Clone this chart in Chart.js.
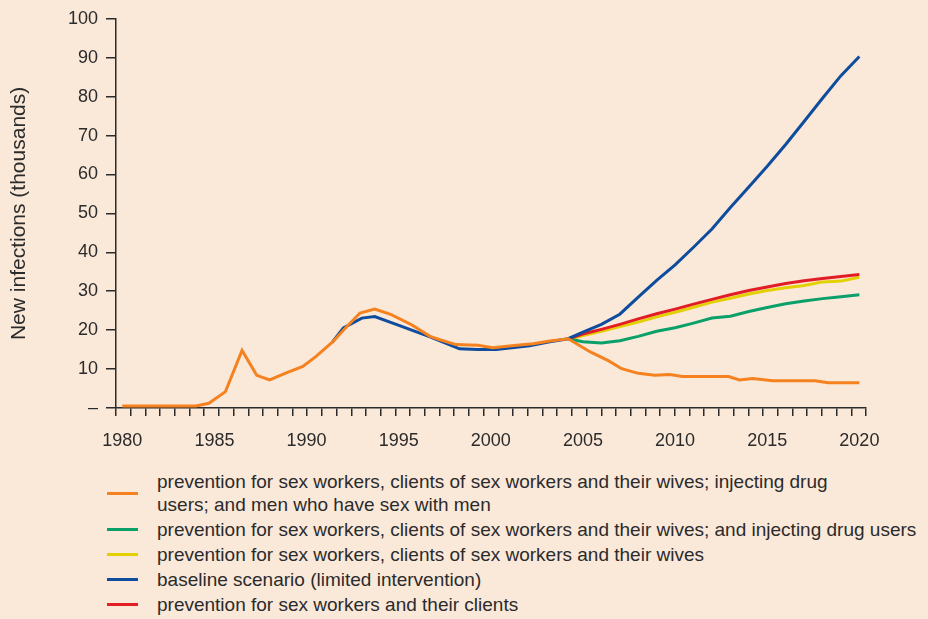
<!DOCTYPE html>
<html>
<head>
<meta charset="utf-8">
<script src="https://cdn.jsdelivr.net/npm/chart.js@4"></script>
<style>
  html, body { margin: 0; padding: 0; background: #fae8d9; }
  body { width: 928px; height: 619px; position: relative; overflow: hidden;
         font-family: "Liberation Sans", Arial, Helvetica, sans-serif; color: #2b2b2b; }
  #wrap { position: absolute; left: 0; top: 0; width: 928px; height: 455px; }
  #legend { position: absolute; left: 107px; top: 470px; font-size: 19px; line-height: 23px; }
  .item { display: flex; align-items: center; margin-bottom: 2px; }
  .swatch { width: 31px; height: 3px; margin-right: 19px; flex: none; }
  .text { white-space: nowrap; }
</style>
</head>
<body>
<div id="wrap"><canvas id="chart"></canvas></div>
<div id="legend"></div>
<script>
// --- DATA ---
const tickYears = [1980, 1985, 1990, 1995, 2000, 2005, 2010, 2015, 2020];

// prevention for sex workers, clients, wives, IDU and MSM
const orangeYears = [1980, 1981, 1982, 1983, 1984, 1984.7, 1985.6, 1986.5, 1987.3, 1988, 1988.9, 1989.8,
  1990.5, 1991.4, 1992.2, 1992.9, 1993.7, 1994.6, 1995.7, 1996.7, 1997.2, 1998.1, 1999.3, 2000.1,
  2001.4, 2002.3, 2003.2, 2004.2, 2005.4, 2006.4, 2007.1, 2008, 2008.9, 2009.7, 2010.4, 2012.9,
  2013.5, 2014.2, 2015.3, 2017.6, 2018.3, 2020];
const orangeValues = [0.5, 0.5, 0.5, 0.5, 0.5, 1.2, 4.2, 14.8, 8.4, 7.2, 9.0, 10.7,
  13.2, 16.9, 21.0, 24.4, 25.4, 24.0, 21.4, 18.4, 17.6, 16.3, 16.1, 15.5,
  16.1, 16.5, 17.2, 17.8, 14.4, 12.1, 10.1, 8.9, 8.4, 8.6, 8.1, 8.1,
  7.2, 7.6, 7.0, 7.0, 6.5, 6.5];

// baseline scenario
const blueYears = [1991.4, 1992, 1993, 1993.7, 1994.9, 1996.7, 1998.3, 1999.3, 2000.3, 2002.1, 2003.2, 2004.2,
  2005, 2006, 2007, 2008, 2009, 2010, 2011, 2012, 2013, 2014, 2015, 2016, 2017, 2018, 2019, 2020];
const blueValues = [16.9, 20.6, 23.1, 23.5, 21.4, 18.3, 15.2, 15.0, 15.0, 16.0, 17.0, 17.8,
  19.5, 21.5, 24.1, 28.5, 32.8, 36.8, 41.3, 46.0, 51.5, 56.8, 62.1, 67.7, 73.6, 79.6, 85.4, 90.3];

// projections from 2004 on
const projYears = [2004.2, 2005, 2006, 2007, 2008, 2009, 2010, 2011, 2012, 2013, 2014, 2015, 2016, 2017, 2018, 2019, 2020];
const redValues = [17.8, 19.0, 20.2, 21.5, 22.9, 24.2, 25.4, 26.7, 27.9, 29.1, 30.2, 31.1, 32.0, 32.7, 33.3, 33.8, 34.3];
const yellowValues = [17.6, 18.6, 19.7, 20.9, 22.1, 23.4, 24.6, 25.9, 27.2, 28.2, 29.3, 30.2, 30.9, 31.5, 32.4, 32.6, 33.6];
const greenValues = [17.8, 17.0, 16.7, 17.3, 18.4, 19.7, 20.6, 21.8, 23.1, 23.6, 24.8, 25.8, 26.8, 27.5, 28.1, 28.6, 29.1];

const labels = {
  orange: ['prevention for sex workers, clients of sex workers and their wives; injecting drug',
           'users; and men who have sex with men'],
  green: ['prevention for sex workers, clients of sex workers and their wives; and injecting drug users'],
  yellow: ['prevention for sex workers, clients of sex workers and their wives'],
  blue: ['baseline scenario (limited intervention)'],
  red: ['prevention for sex workers and their clients']
};
const colors = { orange: '#f5821f', green: '#0aa06a', yellow: '#e3d000', blue: '#0e4c9e', red: '#e31d25' };

const xMin = 1979.66, xMax = 2020.36, minorCount = 51;
const ink = '#2b2b2b';
const font = { family: '"Liberation Sans", Arial, Helvetica, sans-serif', size: 18 };

function pts(xs, ys) { return xs.map((x, i) => ({ x: x, y: ys[i] })); }

function series(key, xs, ys) {
  return {
    label: labels[key].join(' '),
    data: pts(xs, ys),
    borderColor: colors[key],
    borderWidth: 3,
    pointRadius: 0,
    tension: 0,
    fill: false
  };
}

// first in array is drawn on top
const datasets = [
  series('orange', orangeYears, orangeValues),
  series('blue', blueYears, blueValues),
  series('red', projYears, redValues),
  series('green', projYears, greenValues),
  series('yellow', projYears, yellowValues)
];

new Chart(document.getElementById('chart'), {
  type: 'line',
  data: { datasets: datasets },
  options: {
    responsive: true,
    maintainAspectRatio: false,
    animation: false,
    layout: { padding: { left: 0, top: 17, right: 62, bottom: 0 } },
    plugins: { legend: { display: false }, tooltip: { enabled: false } },
    scales: {
      x: {
        type: 'linear',
        min: xMin,
        max: xMax,
        afterFit: s => { s.height = 47; },
        afterBuildTicks: s => {
          const t = [];
          const step = (xMax - xMin) / minorCount;
          for (let k = 0; k <= minorCount; k++) t.push({ value: xMax - k * step });
          tickYears.forEach(y => t.push({ value: y }));
          t.sort((a, b) => a.value - b.value);
          s.ticks = t;
        },
        ticks: {
          autoSkip: false, maxRotation: 0, padding: 14, color: ink, font: font,
          callback: v => tickYears.includes(v) ? String(v) : ''
        },
        grid: {
          drawOnChartArea: false, tickLength: 8, lineWidth: 1.5,
          tickColor: c => (c.tick && tickYears.includes(c.tick.value)) ? 'rgba(0,0,0,0)' : ink
        },
        border: { color: ink, width: 1.5 }
      },
      y: {
        min: 0, max: 100,
        afterFit: s => { s.width = 116; },
        ticks: {
          stepSize: 10, padding: 8, color: ink, font: font,
          callback: v => v === 0 ? '–' : v
        },
        grid: { drawOnChartArea: false, tickLength: 10, tickColor: ink, lineWidth: 1.5 },
        border: { color: ink, width: 1.5 },
        title: {
          display: true, text: 'New infections (thousands)', color: ink,
          font: { family: font.family, size: 21 }, padding: { top: 7, bottom: 0 }
        }
      }
    }
  }
});

// --- LEGEND ---
const legendOrder = ['orange', 'green', 'yellow', 'blue', 'red'];
const legend = document.getElementById('legend');
legendOrder.forEach(key => {
  const item = document.createElement('div');
  item.className = 'item';
  const sw = document.createElement('span');
  sw.className = 'swatch';
  sw.style.background = colors[key];
  const tx = document.createElement('span');
  tx.className = 'text';
  tx.innerHTML = labels[key].join('<br>');
  item.appendChild(sw);
  item.appendChild(tx);
  legend.appendChild(item);
});
</script>
</body>
</html>
